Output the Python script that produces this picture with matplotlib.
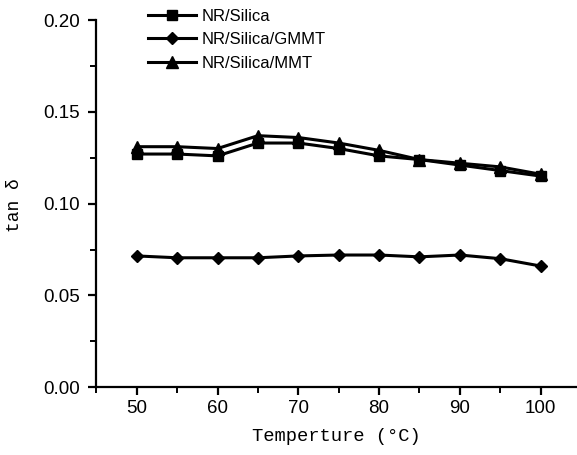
import numpy as np
import matplotlib
matplotlib.use('Agg')
import matplotlib.pyplot as plt
from matplotlib.ticker import MultipleLocator, FormatStrFormatter

# ── Data ─────────────────────────────────────────────────────────────────────
temps       = [50, 55, 60, 65, 70, 75, 80, 85, 90, 95, 100]
nr_silica   = [0.127, 0.127, 0.126, 0.133, 0.133, 0.130, 0.126, 0.124, 0.121, 0.118, 0.115]
nr_gmmt     = [0.0715, 0.0705, 0.0705, 0.0705, 0.0715, 0.072, 0.072, 0.071, 0.072, 0.070, 0.066]
nr_mmt      = [0.131, 0.131, 0.130, 0.137, 0.136, 0.133, 0.129, 0.124, 0.122, 0.120, 0.116]

plt.rcParams['font.family'] = ['Liberation Sans', 'DejaVu Sans']

fig = plt.figure(figsize=(5.77, 4.55), dpi=100)
ax = fig.add_axes([0.167, 0.149, 0.833, 0.807])

ax.plot(temps, nr_silica, color='black', lw=2.2, marker='s', ms=7, label='NR/Silica')
ax.plot(temps, nr_gmmt, color='black', lw=2.2, marker='D', ms=6.5, label='NR/Silica/GMMT')
ax.plot(temps, nr_mmt, color='black', lw=2.2, marker='^', ms=8, label='NR/Silica/MMT')

ax.set_xlim(45, 104.5)
ax.set_ylim(0, 0.2)
ax.xaxis.set_major_locator(MultipleLocator(10))
ax.xaxis.set_minor_locator(MultipleLocator(5))
ax.yaxis.set_major_locator(MultipleLocator(0.05))
ax.yaxis.set_minor_locator(MultipleLocator(0.025))
ax.yaxis.set_major_formatter(FormatStrFormatter('%.2f'))

for s in ['top', 'right']:
    ax.spines[s].set_visible(False)
for s in ['left', 'bottom']:
    ax.spines[s].set_linewidth(1.6)

ax.tick_params(which='major', direction='out', length=6, width=1.6, labelsize=13.5)
ax.tick_params(axis='y', which='major', pad=6)
ax.tick_params(which='minor', direction='out', length=4, width=1.4)

mono = ['Liberation Mono', 'DejaVu Sans Mono']
ax.set_xlabel('Temperture (\u00b0C)', family=mono, fontsize=13.5)
ax.xaxis.set_label_coords(0.5, -0.112)
ax.set_ylabel('tan \u03b4', family=mono, fontsize=13)
ax.yaxis.set_label_coords(-0.152, 0.495)

leg = fig.legend(loc='upper left', bbox_to_anchor=(0.245, 0.995), frameon=False,
                 fontsize=12, handlelength=2.9, handletextpad=0.3, labelspacing=0.5,
                 borderaxespad=0)

fig.savefig('out.png', dpi=100)
